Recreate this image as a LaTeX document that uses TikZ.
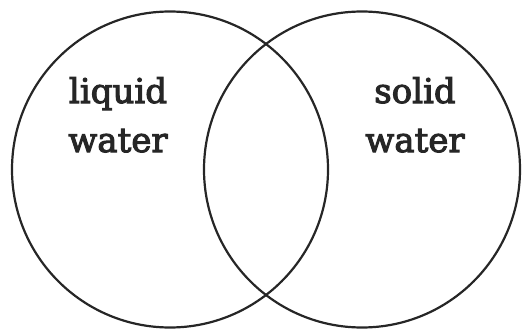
\documentclass[tikz,border=0pt]{standalone}
\usepackage{fontspec}
\setmainfont{DejaVu Serif}
\newfontfamily\lblfont[FakeBold=3]{DejaVu Serif}
\begin{document}
\begin{tikzpicture}[x=1pt,y=-1pt,thick]
  \tikzstyle{set}=[draw=black!85, line width=2.2pt, circle, minimum size=316pt, inner sep=0pt]
  \tikzstyle{lbl}=[align=center, font=\lblfont\fontsize{34}{49}\selectfont, text=black!85, inner sep=0pt]

  \useasboundingbox (0,0) rectangle (522,329);

  \node[set] (liquid) at (170,169.5) {};
  \node[set] (solid) at (362,169.5) {};

  % base anchor sits on the last line
  \node[lbl, anchor=base] (liquidlbl) at (118,152) {liquid\\water};
  \node[lbl, anchor=base] (solidlbl) at (415,152) {solid\\water};
\end{tikzpicture}
\end{document}
